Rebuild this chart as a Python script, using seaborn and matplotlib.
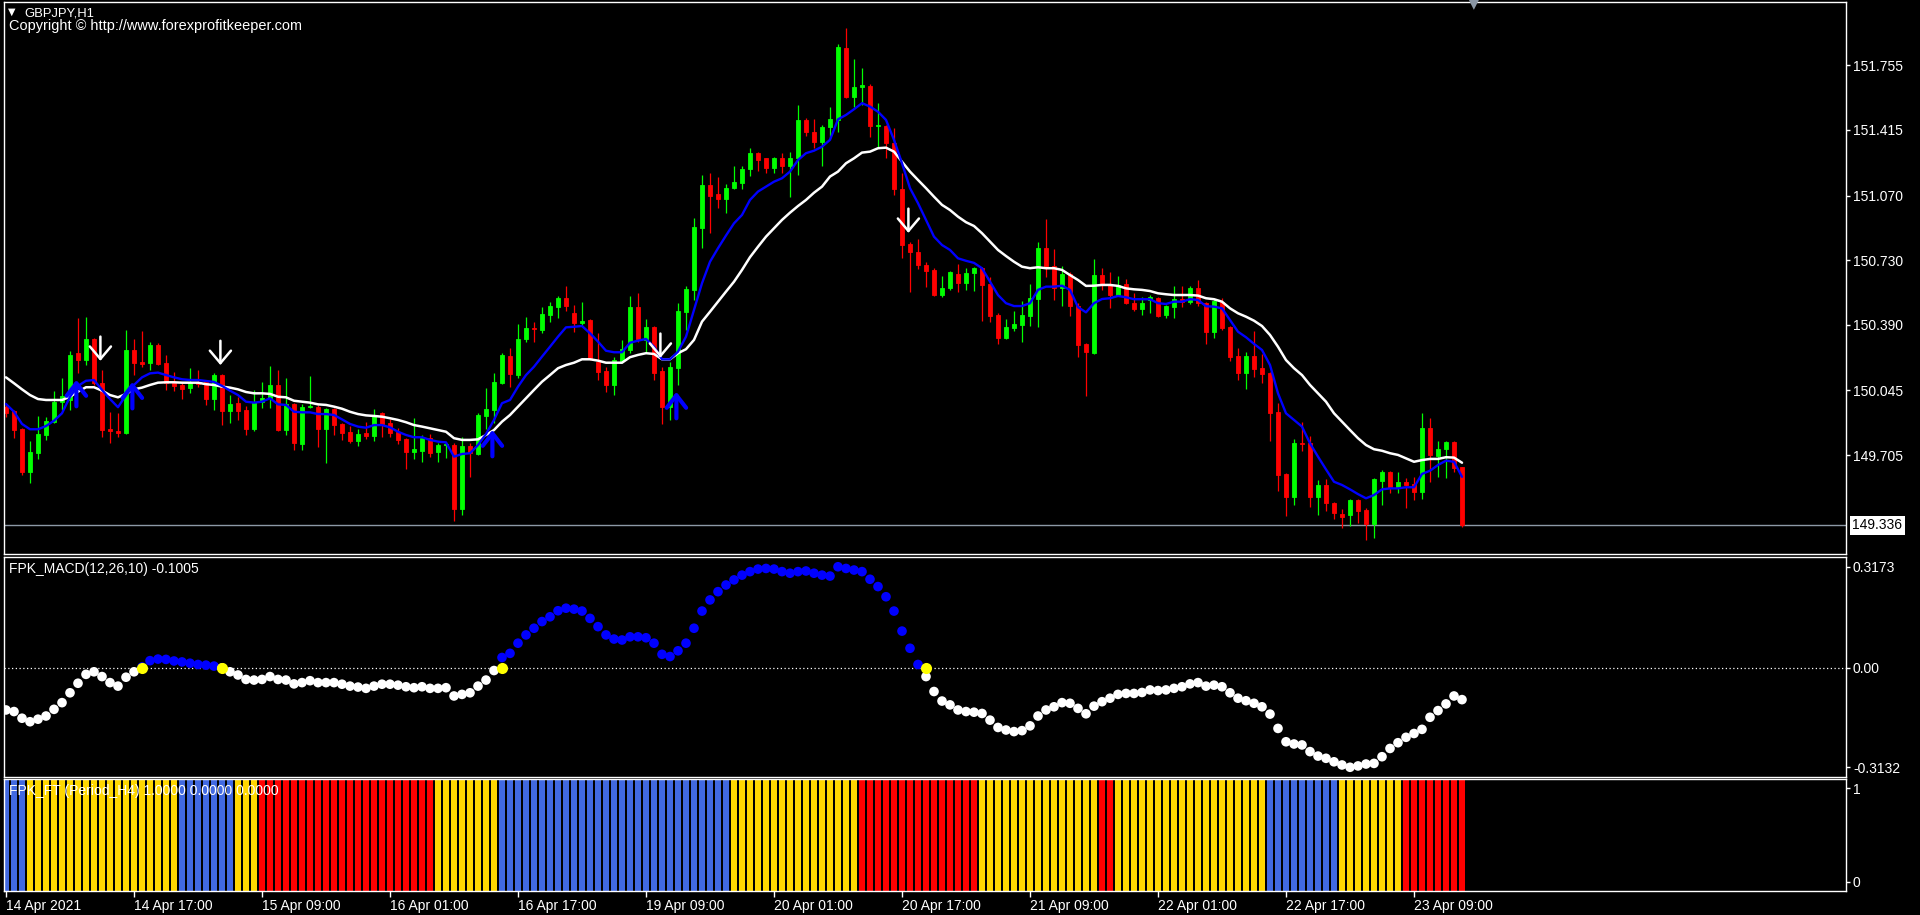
import numpy as np
import pandas as pd
import matplotlib
matplotlib.use("Agg")
import matplotlib.pyplot as plt
import seaborn as sns

# GBPJPY H1 - 183 hourly bars (14 Apr 01:00 .. 23 Apr 15:00)
bar_open = [
    149.958, 149.937, 149.842, 149.616, 149.716, 149.811, 149.879, 149.984, 149.995, 150.242,
    150.205, 150.316, 150.084, 149.842, 149.832, 149.821, 150.258, 150.195, 150.190, 150.284,
    150.190, 150.084, 150.074, 150.058, 150.090, 150.090, 150.000, 150.126, 149.937, 149.979,
    149.942, 149.842, 149.984, 150.005, 150.074, 149.837, 149.974, 149.764, 149.958, 149.958,
    149.842, 149.948, 149.869, 149.827, 149.779, 149.821, 149.806, 149.927, 149.874, 149.827,
    149.790, 149.721, 149.727, 149.795, 149.721, 149.758, 149.758, 149.422, 149.753, 149.711,
    149.911, 149.942, 150.084, 150.226, 150.126, 150.316, 150.374, 150.363, 150.442, 150.484,
    150.531, 150.453, 150.400, 150.416, 150.195, 150.147, 150.074, 150.200, 150.258, 150.484,
    150.311, 150.379, 150.147, 149.958, 150.163, 150.458, 150.574, 150.900, 151.126, 151.078,
    151.052, 151.110, 151.136, 151.210, 151.294, 151.268, 151.215, 151.268, 151.226, 151.268,
    151.468, 151.405, 151.352, 151.431, 151.468, 151.847, 151.589, 151.641, 151.647, 151.436,
    151.436, 151.347, 151.105, 150.815, 150.773, 150.705, 150.679, 150.547, 150.584, 150.658,
    150.610, 150.663, 150.689, 150.605, 150.442, 150.321, 150.374, 150.389, 150.437, 150.526,
    150.794, 150.700, 150.584, 150.658, 150.489, 150.290, 150.242, 150.652, 150.605, 150.547,
    150.605, 150.505, 150.474, 150.521, 150.531, 150.442, 150.484, 150.526, 150.510, 150.584,
    150.505, 150.353, 150.510, 150.379, 150.226, 150.137, 150.226, 150.163, 150.137, 149.932,
    149.606, 149.485, 149.769, 149.769, 149.485, 149.548, 149.453, 149.395, 149.390, 149.469,
    149.416, 149.343, 149.569, 149.616, 149.532, 149.564, 149.553, 149.511, 149.848, 149.700,
    149.737, 149.774, 149.642,
]
bar_high = [
    149.974, 149.942, 149.848, 149.779, 149.911, 149.906, 150.042, 150.111, 150.253, 150.426,
    150.432, 150.321, 150.153, 149.932, 149.927, 150.363, 150.316, 150.358, 150.300, 150.295,
    150.232, 150.142, 150.084, 150.163, 150.153, 150.095, 150.137, 150.131, 150.021, 150.011,
    149.963, 150.047, 150.090, 150.174, 150.153, 150.111, 149.979, 149.974, 150.121, 149.969,
    149.953, 149.953, 149.874, 149.858, 149.842, 149.879, 149.948, 149.932, 149.895, 149.848,
    149.795, 149.900, 149.811, 149.816, 149.769, 149.769, 149.769, 149.800, 149.769, 149.927,
    150.058, 150.137, 150.242, 150.268, 150.395, 150.432, 150.405, 150.484, 150.510, 150.542,
    150.595, 150.495, 150.510, 150.421, 150.347, 150.169, 150.221, 150.311, 150.542, 150.558,
    150.421, 150.384, 150.169, 150.195, 150.505, 150.595, 150.952, 151.178, 151.189, 151.168,
    151.131, 151.226, 151.226, 151.321, 151.300, 151.270, 151.272, 151.294, 151.300, 151.547,
    151.478, 151.473, 151.441, 151.536, 151.868, 151.952, 151.789, 151.741, 151.657, 151.557,
    151.442, 151.426, 151.189, 150.826, 150.842, 150.721, 150.689, 150.647, 150.673, 150.710,
    150.689, 150.694, 150.694, 150.642, 150.453, 150.421, 150.463, 150.516, 150.605, 150.826,
    150.947, 150.789, 150.700, 150.668, 150.505, 150.295, 150.737, 150.689, 150.668, 150.647,
    150.631, 150.558, 150.537, 150.547, 150.537, 150.495, 150.595, 150.595, 150.595, 150.626,
    150.510, 150.526, 150.531, 150.384, 150.268, 150.247, 150.358, 150.237, 150.142, 149.979,
    149.611, 149.790, 149.879, 149.806, 149.574, 149.579, 149.458, 149.422, 149.474, 149.474,
    149.427, 149.585, 149.627, 149.621, 149.616, 149.585, 149.590, 149.927, 149.900, 149.779,
    149.779, 149.779, 149.642,
]
bar_low = [
    149.906, 149.795, 149.600, 149.558, 149.685, 149.784, 149.874, 149.942, 149.942, 150.137,
    150.179, 150.074, 149.800, 149.769, 149.800, 149.816, 150.126, 150.169, 150.153, 150.180,
    150.047, 150.042, 150.000, 150.032, 150.063, 149.969, 149.942, 149.863, 149.874, 149.890,
    149.811, 149.832, 149.953, 149.953, 149.832, 149.811, 149.732, 149.732, 149.953, 149.748,
    149.664, 149.811, 149.784, 149.769, 149.753, 149.790, 149.779, 149.800, 149.800, 149.764,
    149.632, 149.685, 149.669, 149.695, 149.669, 149.690, 149.358, 149.390, 149.590, 149.706,
    149.842, 149.874, 150.079, 150.063, 150.111, 150.300, 150.300, 150.347, 150.405, 150.426,
    150.463, 150.353, 150.389, 150.205, 150.100, 150.037, 150.021, 150.190, 150.242, 150.300,
    150.242, 150.100, 149.869, 149.890, 150.074, 150.363, 150.521, 150.794, 150.873, 151.005,
    150.979, 151.105, 151.105, 151.173, 151.200, 151.189, 151.189, 151.189, 151.063, 151.178,
    151.384, 151.321, 151.226, 151.373, 151.405, 151.584, 151.536, 151.547, 151.378, 151.326,
    151.268, 151.073, 150.742, 150.563, 150.684, 150.589, 150.542, 150.537, 150.574, 150.563,
    150.574, 150.568, 150.411, 150.405, 150.290, 150.316, 150.358, 150.300, 150.384, 150.379,
    150.642, 150.521, 150.489, 150.437, 150.221, 150.016, 150.237, 150.574, 150.479, 150.542,
    150.500, 150.463, 150.442, 150.453, 150.432, 150.426, 150.426, 150.484, 150.500, 150.489,
    150.290, 150.321, 150.363, 150.200, 150.100, 150.053, 150.116, 150.084, 149.779, 149.516,
    149.385, 149.443, 149.727, 149.432, 149.390, 149.411, 149.369, 149.322, 149.332, 149.348,
    149.258, 149.269, 149.443, 149.506, 149.506, 149.427, 149.469, 149.474, 149.564, 149.590,
    149.585, 149.616, 149.327,
]
bar_close = [
    149.927, 149.837, 149.616, 149.721, 149.816, 149.885, 149.984, 150.016, 150.232, 150.205,
    150.316, 150.084, 149.837, 149.832, 149.821, 150.258, 150.190, 150.184, 150.284, 150.184,
    150.084, 150.069, 150.053, 150.090, 150.079, 150.000, 150.126, 149.937, 149.974, 149.937,
    149.842, 149.984, 150.005, 150.074, 149.837, 149.974, 149.769, 149.958, 149.963, 149.842,
    149.948, 149.863, 149.821, 149.779, 149.816, 149.806, 149.916, 149.869, 149.821, 149.784,
    149.721, 149.737, 149.795, 149.716, 149.758, 149.764, 149.422, 149.753, 149.716, 149.916,
    149.948, 150.090, 150.232, 150.132, 150.316, 150.374, 150.368, 150.447, 150.489, 150.531,
    150.489, 150.400, 150.411, 150.211, 150.142, 150.074, 150.205, 150.263, 150.484, 150.316,
    150.379, 150.137, 149.958, 150.169, 150.463, 150.579, 150.905, 151.126, 151.068, 151.052,
    151.110, 151.142, 151.210, 151.294, 151.257, 151.215, 151.268, 151.226, 151.268, 151.468,
    151.405, 151.352, 151.431, 151.473, 151.852, 151.589, 151.641, 151.652, 151.436, 151.442,
    151.347, 151.105, 150.810, 150.773, 150.705, 150.673, 150.547, 150.584, 150.668, 150.610,
    150.663, 150.689, 150.600, 150.437, 150.321, 150.379, 150.395, 150.442, 150.531, 150.794,
    150.700, 150.584, 150.658, 150.489, 150.284, 150.247, 150.652, 150.605, 150.547, 150.600,
    150.505, 150.474, 150.505, 150.537, 150.437, 150.489, 150.526, 150.510, 150.584, 150.505,
    150.353, 150.516, 150.374, 150.221, 150.137, 150.226, 150.158, 150.132, 149.927, 149.600,
    149.485, 149.769, 149.764, 149.485, 149.548, 149.453, 149.401, 149.379, 149.469, 149.411,
    149.343, 149.579, 149.616, 149.532, 149.564, 149.548, 149.511, 149.848, 149.706, 149.737,
    149.774, 149.637, 149.336,
]

# moving averages as drawn on the chart (blue = fast, white = slow)
ma_fast = [
    149.974, 149.933, 149.869, 149.841, 149.841, 149.858, 149.886, 149.925, 150.012, 150.069,
    150.096, 150.100, 150.048, 150.000, 149.957, 150.021, 150.074, 150.114, 150.135, 150.139,
    150.126, 150.114, 150.104, 150.100, 150.100, 150.095, 150.090, 150.069, 150.044, 150.021,
    149.986, 149.981, 149.986, 150.004, 149.972, 149.969, 149.933, 149.930, 149.930, 149.921,
    149.921, 149.916, 149.893, 149.869, 149.855, 149.849, 149.863, 149.863, 149.851, 149.828,
    149.811, 149.799, 149.799, 149.785, 149.776, 149.772, 149.697, 149.711, 149.715, 149.758,
    149.816, 149.890, 149.978, 149.995, 150.065, 150.126, 150.170, 150.223, 150.275, 150.328,
    150.377, 150.380, 150.384, 150.346, 150.302, 150.254, 150.246, 150.246, 150.296, 150.307,
    150.316, 150.275, 150.209, 150.209, 150.249, 150.328, 150.468, 150.609, 150.722, 150.793,
    150.860, 150.924, 150.968, 151.047, 151.091, 151.117, 151.143, 151.161, 151.196, 151.257,
    151.293, 151.306, 151.327, 151.363, 151.471, 151.494, 151.524, 151.556, 151.538, 151.511,
    151.468, 151.363, 151.240, 151.109, 151.030, 150.942, 150.854, 150.810, 150.784, 150.740,
    150.727, 150.716, 150.688, 150.617, 150.547, 150.504, 150.489, 150.489, 150.504, 150.574,
    150.591, 150.591, 150.596, 150.574, 150.483, 150.456, 150.504, 150.526, 150.530, 150.542,
    150.535, 150.525, 150.525, 150.525, 150.504, 150.500, 150.512, 150.512, 150.525, 150.521,
    150.488, 150.486, 150.477, 150.416, 150.354, 150.325, 150.290, 150.258, 150.179, 150.030,
    149.925, 149.890, 149.855, 149.767, 149.697, 149.630, 149.565, 149.548, 149.525, 149.500,
    149.478, 149.495, 149.525, 149.530, 149.530, 149.536, 149.536, 149.606, 149.623, 149.653,
    149.676, 149.670, 149.591,
]
ma_slow = [
    150.114, 150.083, 150.051, 150.021, 150.000, 149.995, 149.995, 149.995, 150.012, 150.039,
    150.062, 150.062, 150.044, 150.021, 150.009, 150.027, 150.051, 150.060, 150.074, 150.086,
    150.088, 150.088, 150.086, 150.086, 150.086, 150.078, 150.074, 150.065, 150.060, 150.051,
    150.037, 150.030, 150.030, 150.027, 150.012, 150.009, 149.991, 149.986, 149.981, 149.972,
    149.969, 149.960, 149.949, 149.933, 149.921, 149.914, 149.911, 149.907, 149.899, 149.890,
    149.878, 149.863, 149.855, 149.846, 149.837, 149.828, 149.794, 149.785, 149.785, 149.788,
    149.811, 149.837, 149.881, 149.916, 149.960, 150.004, 150.048, 150.091, 150.126, 150.162,
    150.179, 150.191, 150.209, 150.209, 150.202, 150.191, 150.191, 150.191, 150.220, 150.232,
    150.241, 150.237, 150.209, 150.209, 150.241, 150.262, 150.311, 150.407, 150.459, 150.512,
    150.565, 150.617, 150.679, 150.746, 150.801, 150.854, 150.898, 150.942, 150.980, 151.015,
    151.047, 151.085, 151.117, 151.170, 151.196, 151.240, 151.266, 151.296, 151.301, 151.319,
    151.322, 151.301, 151.248, 151.196, 151.152, 151.109, 151.064, 151.021, 150.994, 150.959,
    150.930, 150.910, 150.872, 150.828, 150.784, 150.752, 150.722, 150.696, 150.688, 150.693,
    150.688, 150.688, 150.679, 150.652, 150.626, 150.595, 150.596, 150.600, 150.600, 150.595,
    150.582, 150.577, 150.574, 150.568, 150.556, 150.551, 150.547, 150.547, 150.547, 150.544,
    150.530, 150.525, 150.512, 150.477, 150.451, 150.433, 150.412, 150.384, 150.337, 150.275,
    150.205, 150.162, 150.126, 150.074, 150.030, 149.986, 149.925, 149.881, 149.837, 149.794,
    149.758, 149.736, 149.728, 149.715, 149.706, 149.688, 149.670, 149.679, 149.685, 149.685,
    149.694, 149.692, 149.665,
]

# FPK_MACD dots
macd = [
    -0.133, -0.138, -0.159, -0.170, -0.162, -0.152, -0.131, -0.110, -0.079, -0.049,
    -0.021, -0.013, -0.028, -0.047, -0.058, -0.030, -0.013, 0.002, 0.022, 0.027,
    0.026, 0.021, 0.018, 0.014, 0.010, 0.008, 0.005, -0.001, -0.013, -0.023,
    -0.037, -0.039, -0.037, -0.028, -0.037, -0.039, -0.051, -0.047, -0.041, -0.047,
    -0.047, -0.047, -0.052, -0.058, -0.061, -0.065, -0.058, -0.052, -0.052, -0.055,
    -0.060, -0.063, -0.060, -0.065, -0.065, -0.063, -0.089, -0.084, -0.079, -0.058,
    -0.039, -0.009, 0.032, 0.045, 0.077, 0.103, 0.124, 0.145, 0.160, 0.179,
    0.187, 0.184, 0.178, 0.155, 0.129, 0.103, 0.090, 0.087, 0.097, 0.097,
    0.094, 0.077, 0.042, 0.035, 0.053, 0.077, 0.124, 0.178, 0.213, 0.239,
    0.260, 0.276, 0.291, 0.302, 0.310, 0.312, 0.310, 0.302, 0.297, 0.302,
    0.304, 0.297, 0.291, 0.288, 0.3173, 0.312, 0.307, 0.302, 0.278, 0.255,
    0.223, 0.178, 0.115, 0.061, 0.010, -0.028, -0.075, -0.105, -0.117, -0.133,
    -0.138, -0.140, -0.144, -0.165, -0.188, -0.196, -0.201, -0.198, -0.183, -0.152,
    -0.133, -0.123, -0.110, -0.112, -0.128, -0.145, -0.121, -0.107, -0.096, -0.084,
    -0.081, -0.081, -0.078, -0.070, -0.072, -0.070, -0.065, -0.060, -0.051, -0.047,
    -0.058, -0.055, -0.060, -0.079, -0.096, -0.104, -0.112, -0.123, -0.146, -0.191,
    -0.233, -0.240, -0.243, -0.264, -0.278, -0.285, -0.296, -0.306, -0.3132, -0.309,
    -0.303, -0.301, -0.280, -0.254, -0.236, -0.219, -0.207, -0.194, -0.156, -0.135,
    -0.114, -0.089, -0.1005,
]
macd_cross_bars = [17, 27, 62, 115]

# signal arrows
sell_arrow_bars = [12, 27, 82, 113]
buy_arrow_bars = [9, 16, 61, 84]

# FPK_FT trend histogram (state, number of bars)
ft_runs = [("up", 3), ("flat", 19), ("up", 7), ("flat", 3), ("down", 22), ("flat", 8),
           ("up", 29), ("flat", 16), ("down", 15), ("flat", 15), ("down", 2), ("flat", 19),
           ("up", 9), ("flat", 8), ("down", 8)]

price_ticks = [151.755, 151.415, 151.070, 150.730, 150.390, 150.045, 149.705]
macd_ticks = [0.3173, 0.0, -0.3132]
macd_tick_labels = ["0.3173", "0.00", "-0.3132"]
time_tick_bars = [0, 16, 32, 48, 64, 80, 96, 112, 128, 144, 160, 176]
time_tick_labels = ["14 Apr 2021", "14 Apr 17:00", "15 Apr 09:00", "16 Apr 01:00",
                    "16 Apr 17:00", "19 Apr 09:00", "20 Apr 01:00", "20 Apr 17:00",
                    "21 Apr 09:00", "22 Apr 01:00", "22 Apr 17:00", "23 Apr 09:00"]

# ---------------------------------------------------------------------------
df = pd.DataFrame({"open": bar_open, "high": bar_high, "low": bar_low, "close": bar_close,
                   "ma_fast": ma_fast, "ma_slow": ma_slow, "macd": macd})
df["bar"] = np.arange(len(df))
df["color"] = np.where(df["close"] >= df["open"], "#00ff00", "#ff0000")
df["side"] = np.where(df["macd"] > 0, "up", "down")

ft_state = [s for s, n in ft_runs for _ in range(n)]
ft_palette = {"up": "#4169e1", "flat": "#ffd700", "down": "#ff0000"}

sns.set_theme(style="dark")
plt.rcParams.update({
    "font.family": ["Liberation Sans", "DejaVu Sans"],
    "figure.facecolor": "black",
    "axes.facecolor": "black",
    "axes.edgecolor": "white",
    "text.color": "white",
    "xtick.color": "white",
    "ytick.color": "white",
    "axes.grid": False,
})

W, H = 1920, 915
fig = plt.figure(figsize=(W / 100, H / 100), dpi=100)


def panel(top, bottom):
    return fig.add_axes([4 / W, 1 - bottom / H, 1842 / W, (bottom - top) / H])


ax = panel(2, 554)
ax_macd = panel(557, 777)
ax_ft = panel(779, 891)

for a in (ax, ax_macd, ax_ft):
    a.set_facecolor("black")
    a.set_xlim(-0.25, 230)
    for sp in a.spines.values():
        sp.set_color("white")
        sp.set_linewidth(1)
    a.yaxis.tick_right()
    a.tick_params(axis="y", colors="white", labelcolor="white", length=3, width=1,
                  pad=2, labelsize=10)
    a.tick_params(axis="x", bottom=False, labelbottom=False)

# ---- price panel ----
ax.set_ylim(149.185, 152.088)
ax.vlines(df["bar"], df["low"], df["high"], colors=df["color"], linewidth=0.9, zorder=2)
body_lo = df[["open", "close"]].min(axis=1)
body_h = (df["close"] - df["open"]).abs()
ax.bar(df["bar"], body_h, bottom=body_lo, width=0.62, color=df["color"],
       edgecolor=df["color"], linewidth=0.6, zorder=2)

sns.lineplot(data=df, x="bar", y="ma_slow", ax=ax, color="white", linewidth=1.8, zorder=3)
sns.lineplot(data=df, x="bar", y="ma_fast", ax=ax, color="#0000ff", linewidth=1.7, zorder=3)

for i in sell_arrow_bars:
    ax.annotate("", xy=(i - 0.2, bar_high[i]), xytext=(0, 24), textcoords="offset points",
                arrowprops=dict(arrowstyle="->,head_length=0.45,head_width=0.38",
                                color="white", lw=1.8, shrinkA=0, shrinkB=6.5,
                                mutation_scale=20), zorder=4)
for i in buy_arrow_bars:
    ax.annotate("", xy=(i - 0.2, bar_low[i]), xytext=(0, -24), textcoords="offset points",
                arrowprops=dict(arrowstyle="->,head_length=0.45,head_width=0.35",
                                color="#0000ff", lw=3, shrinkA=0, shrinkB=5,
                                mutation_scale=20), zorder=4)

last = bar_close[-1]
ax.axhline(last, color="#8d99a6", linewidth=1, zorder=1)
ax.set_yticks(price_ticks)
ax.set_yticklabels([f"{v:.3f}" for v in price_ticks])
ax.text(1.0035, last, f"{last:.3f}", transform=ax.get_yaxis_transform(), ha="left",
        va="center", color="black", fontsize=10,
        bbox=dict(boxstyle="square,pad=0.2", fc="white", ec="none"), clip_on=False)
ax.set_xlabel("")
ax.set_ylabel("")

# ---- FPK_MACD panel ----
ax_macd.set_ylim(-0.3438, 0.348)
ax_macd.axhline(0, color="white", linewidth=0.9, linestyle=(0, (1, 2)), zorder=1)
sns.scatterplot(data=df, x="bar", y="macd", hue="side",
                palette={"up": "#0000ff", "down": "#ffffff"}, s=48, linewidth=0,
                legend=False, ax=ax_macd, zorder=3)
sns.scatterplot(x=macd_cross_bars, y=np.zeros(len(macd_cross_bars)), color="#ffff00",
                s=64, linewidth=0, ax=ax_macd, zorder=4)
ax_macd.set_yticks(macd_ticks)
ax_macd.set_yticklabels(macd_tick_labels)
ax_macd.set_xlabel("")
ax_macd.set_ylabel("")

# ---- FPK_FT panel ----
ax_ft.set_ylim(-0.096, 1.096)
ax_ft.bar(df["bar"], 1.192, bottom=-0.096, width=0.86,
          color=[ft_palette[s] for s in ft_state], linewidth=0, zorder=2)
ax_ft.set_yticks([1, 0])
ax_ft.set_yticklabels(["1", "0"])
ax_ft.set_xticks(time_tick_bars)
ax_ft.set_xticklabels(time_tick_labels, ha="left")
ax_ft.tick_params(axis="x", bottom=True, labelbottom=True, colors="white",
                  labelcolor="white", length=4, width=1, pad=1.5, labelsize=10)

# ---- captions ----
fig.text(8 / W, 1 - 12 / H, "\u25bc", fontsize=7, color="white", va="center",
         family="DejaVu Sans")
fig.text(24 / W, 1 - 13 / H, "GBPJPY,H1", fontsize=9.4, color="white", va="center")
fig.text(9 / W, 1 - 26 / H, "Copyright \u00a9 http://www.forexprofitkeeper.com",
         fontsize=10.45, color="white", va="center")
fig.text(1468 / W, 1 - 4 / H, "\u25bc", fontsize=11, color="#8a96a4", va="center",
         family="DejaVu Sans")
fig.text(9 / W, 1 - 569 / H, f"FPK_MACD(12,26,10) {macd[-1]:.4f}", fontsize=10,
         color="white", va="center")
fig.text(9 / W, 1 - 791 / H, "FPK_FT (Period_H4) 1.0000 0.0000 0.0000", fontsize=10,
         color="white", va="center", zorder=10)

fig.savefig("out.png", dpi=100, facecolor="black")
